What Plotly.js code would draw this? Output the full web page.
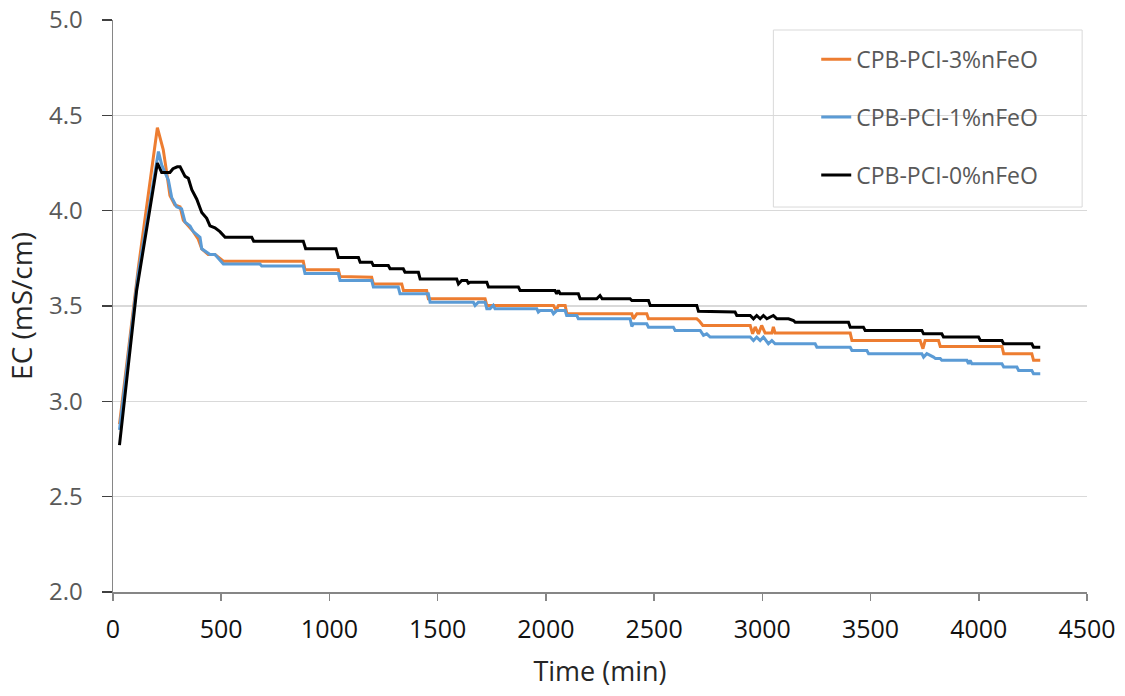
<!DOCTYPE html>
<html>
<head>
<meta charset="utf-8">
<script src="https://cdn.plot.ly/plotly-3.0.1.min.js"></script>
<style>html,body{margin:0;padding:0;background:#fff;}#chart{width:1125px;height:696px;}</style>
</head>
<body>
<div id="chart"></div>
<script>
// Series names
const seriesNames = ["CPB-PCI-3%nFeO", "CPB-PCI-1%nFeO", "CPB-PCI-0%nFeO"];
const seriesColors = ["#ED7D31", "#5B9BD5", "#000000"];

// CPB-PCI-3%nFeO
const time3 = [30,117,205,232,248,263,286,310,325,339,371,394,410,440,471,494,510,879,887,1041,1049,1195,1203,1334,1342,1449,1457,1719,1727,2035,2047,2058,2089,2097,2397,2404,2420,2466,2474,2697,2710,2725,2944,2955,2967,2982,2997,3013,3044,3051,3059,3406,3414,3729,3742,3752,3814,3822,4107,4115,4245,4253,4284];
const ec3 = [2.88,3.70,4.435,4.32,4.20,4.08,4.03,4.02,3.95,3.93,3.89,3.85,3.80,3.77,3.77,3.75,3.735,3.735,3.69,3.69,3.655,3.651,3.616,3.616,3.581,3.581,3.538,3.538,3.503,3.503,3.476,3.503,3.503,3.459,3.459,3.433,3.459,3.459,3.433,3.433,3.42,3.398,3.398,3.354,3.39,3.354,3.398,3.358,3.358,3.39,3.358,3.358,3.319,3.319,3.276,3.319,3.319,3.288,3.288,3.25,3.25,3.215,3.215];

// CPB-PCI-1%nFeO
const time1 = [30,115,210,225,256,271,294,317,333,356,371,402,410,448,471,494,510,679,687,879,887,1041,1049,1195,1203,1318,1326,1457,1465,1665,1673,1688,1719,1727,1742,1757,1765,1958,1965,1973,2027,2035,2050,2089,2096,2143,2150,2389,2397,2404,2466,2474,2589,2597,2705,2713,2728,2743,2759,2944,2959,2974,2990,3005,3028,3044,3059,3244,3252,3406,3414,3483,3491,3737,3745,3760,3791,3800,3822,3829,3945,3953,3960,3968,4107,4115,4176,4184,4245,4253,4284];
const ec1 = [2.85,3.66,4.31,4.24,4.16,4.07,4.02,4.01,3.94,3.92,3.89,3.86,3.80,3.77,3.77,3.74,3.72,3.72,3.71,3.71,3.67,3.67,3.634,3.634,3.599,3.599,3.564,3.564,3.52,3.52,3.503,3.52,3.52,3.485,3.485,3.503,3.485,3.485,3.468,3.476,3.476,3.459,3.476,3.476,3.45,3.45,3.433,3.433,3.393,3.407,3.407,3.389,3.389,3.372,3.372,3.372,3.346,3.354,3.337,3.337,3.319,3.337,3.319,3.337,3.302,3.319,3.302,3.302,3.284,3.284,3.267,3.267,3.25,3.25,3.232,3.25,3.232,3.224,3.224,3.215,3.215,3.197,3.215,3.197,3.197,3.18,3.18,3.162,3.162,3.145,3.145];

// CPB-PCI-0%nFeO
const time0 = [30,109,205,225,263,277,297,310,333,348,364,387,410,433,448,471,494,518,641,650,879,890,987,1030,1041,1134,1142,1195,1203,1272,1280,1341,1349,1411,1419,1588,1596,1611,1635,1642,1650,1727,1735,1873,1881,2042,2050,2058,2066,2150,2158,2235,2250,2260,2389,2397,2474,2482,2697,2705,2874,2882,2944,2959,2974,2990,3005,3021,3051,3067,3121,3144,3152,3398,3406,3467,3475,3737,3745,3829,3837,3999,4007,4107,4115,4245,4253,4284];
const ec0 = [2.77,3.58,4.25,4.20,4.20,4.22,4.23,4.23,4.18,4.17,4.11,4.06,3.99,3.96,3.92,3.91,3.89,3.86,3.86,3.84,3.84,3.80,3.80,3.80,3.755,3.755,3.73,3.73,3.712,3.712,3.695,3.695,3.677,3.677,3.642,3.642,3.616,3.634,3.634,3.62,3.625,3.625,3.599,3.599,3.581,3.581,3.564,3.581,3.564,3.564,3.538,3.538,3.555,3.538,3.538,3.529,3.529,3.503,3.503,3.472,3.468,3.45,3.45,3.433,3.45,3.433,3.45,3.433,3.45,3.433,3.433,3.424,3.415,3.415,3.389,3.389,3.372,3.372,3.354,3.354,3.337,3.337,3.319,3.319,3.302,3.302,3.284,3.284];

// Axis ticks
const xTicks = [0,500,1000,1500,2000,2500,3000,3500,4000,4500];
const yTicks = [2.0,2.5,3.0,3.5,4.0,4.5,5.0];

const xs = [time3, time1, time0];
const ys = [ec3, ec1, ec0];

const traces = seriesNames.map((name, i) => ({
  x: xs[i], y: ys[i], name: name, type: 'scatter', mode: 'lines',
  legendgroup: 'g' + i,
  line: {color: seriesColors[i], width: 3}
}));

const layout = {
  width: 1125, height: 696,
  margin: {l: 113, r: 38, t: 20, b: 104},
  paper_bgcolor: '#ffffff', plot_bgcolor: '#ffffff',
  showlegend: true,
  legend: {
    x: 0.722, y: 0.969, xanchor: 'left', yanchor: 'top',
    bgcolor: 'rgba(0,0,0,0)', borderwidth: 0,
    font: {family: 'Open Sans, sans-serif', size: 23, color: '#595959'},
    tracegroupgap: 25
  },
  shapes: [{
    type: 'rect', xref: 'paper', yref: 'paper',
    x0: 0.678, x1: 0.995, y0: 0.673, y1: 0.9825,
    line: {color: '#d9d9d9', width: 1}, fillcolor: 'rgba(0,0,0,0)', layer: 'above'
  }],
  xaxis: {
    range: [0, 4500], tickvals: xTicks, ticktext: xTicks.map(String),
    showgrid: false, zeroline: false,
    showline: true, linecolor: '#868686', linewidth: 1.5,
    ticks: 'outside', ticklen: 7, tickcolor: '#868686', tickwidth: 1.5,
    ticklabelstandoff: 7,
    tickfont: {family: 'Open Sans, sans-serif', size: 25, color: '#111111'},
    title: {text: 'Time (min)', font: {family: 'Open Sans, sans-serif', size: 27, color: '#262626'}, standoff: 18}
  },
  yaxis: {
    range: [2.0, 5.0], tickvals: yTicks, ticktext: yTicks.map(v => v.toFixed(1)),
    showgrid: true, gridcolor: '#d9d9d9', gridwidth: 1.5, zeroline: false,
    showline: true, linecolor: '#868686', linewidth: 1.5,
    ticks: 'outside', ticklen: 10, tickcolor: '#404040', tickwidth: 1.5,
    ticklabelstandoff: 14,
    tickfont: {family: 'Open Sans, sans-serif', size: 24, color: '#595959'},
    title: {text: 'EC (mS/cm)', font: {family: 'Open Sans, sans-serif', size: 28, color: '#262626'}, standoff: 8}
  }
};

Plotly.newPlot('chart', traces, layout, {displayModeBar: false, staticPlot: true});
</script>
</body>
</html>
